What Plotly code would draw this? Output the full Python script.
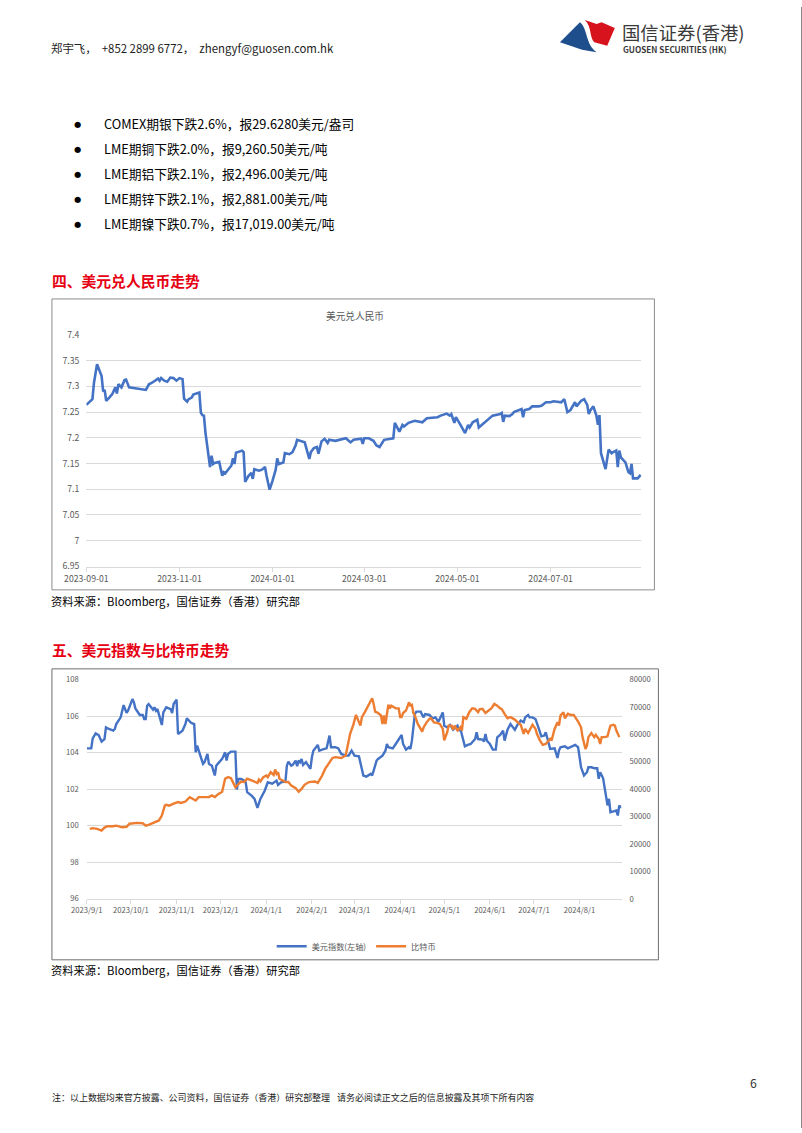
import plotly.graph_objects as go

W, H = 802, 1133
FONT = "Noto Sans CJK SC"
GRID = "#d9d9d9"
LBL = "#595959"

# The photographed page shows the figure mapped as x' = AX + BX*x, y' = AY + BY*y;
# positions below are given in target-picture pixels and converted back here.
AX, BX = 19.0, 0.975
AY, BY = 8.0, 0.9896
FS = 1.02

def fx(x):
    return ((x - AX) / BX) / W

def fy(y):
    return 1 - ((y - AY) / BY) / H

# ---------------- data: USD/CNY ----------------
cny_dates = [
    "2023-09-01", "2023-09-05", "2023-09-06", "2023-09-08", "2023-09-11", "2023-09-12", "2023-09-13",
    "2023-09-14", "2023-09-16", "2023-09-18", "2023-09-20", "2023-09-21", "2023-09-22", "2023-09-24",
    "2023-09-26", "2023-09-27", "2023-09-29", "2023-10-10", "2023-10-12", "2023-10-14", "2023-10-18",
    "2023-10-19", "2023-10-20", "2023-10-22", "2023-10-24", "2023-10-26", "2023-10-28", "2023-10-30",
    "2023-11-01", "2023-11-03", "2023-11-04", "2023-11-06", "2023-11-07", "2023-11-09", "2023-11-10",
    "2023-11-14", "2023-11-15", "2023-11-16", "2023-11-17", "2023-11-18", "2023-11-21", "2023-11-22",
    "2023-11-23", "2023-11-24", "2023-11-27", "2023-11-29", "2023-11-30", "2023-12-01", "2023-12-05",
    "2023-12-06", "2023-12-07", "2023-12-08", "2023-12-12", "2023-12-13", "2023-12-14", "2023-12-16",
    "2023-12-18", "2023-12-19", "2023-12-20", "2023-12-23", "2023-12-25", "2023-12-27", "2023-12-28",
    "2023-12-30", "2024-01-01", "2024-01-03", "2024-01-04", "2024-01-05", "2024-01-08", "2024-01-09",
    "2024-01-12", "2024-01-14", "2024-01-16", "2024-01-17", "2024-01-22", "2024-01-25", "2024-01-26",
    "2024-01-28", "2024-01-30", "2024-01-31", "2024-02-02", "2024-02-04", "2024-02-06", "2024-02-07",
    "2024-02-11", "2024-02-18", "2024-02-21", "2024-02-23", "2024-02-28", "2024-02-29", "2024-03-01",
    "2024-03-04", "2024-03-07", "2024-03-09", "2024-03-11", "2024-03-14", "2024-03-20", "2024-03-21",
    "2024-03-24", "2024-03-26", "2024-03-27", "2024-03-30", "2024-04-03", "2024-04-08", "2024-04-11",
    "2024-04-18", "2024-04-20", "2024-04-24", "2024-04-26", "2024-04-27", "2024-04-29", "2024-04-30",
    "2024-05-03", "2024-05-06", "2024-05-08", "2024-05-09", "2024-05-11", "2024-05-14", "2024-05-15",
    "2024-05-20", "2024-05-24", "2024-05-29", "2024-05-30", "2024-05-31", "2024-06-01", "2024-06-04",
    "2024-06-06", "2024-06-07", "2024-06-10", "2024-06-12", "2024-06-13", "2024-06-14", "2024-06-17",
    "2024-06-19", "2024-06-23", "2024-06-25", "2024-06-28", "2024-07-01", "2024-07-03", "2024-07-08",
    "2024-07-10", "2024-07-12", "2024-07-14", "2024-07-16", "2024-07-17", "2024-07-18", "2024-07-21",
    "2024-07-23", "2024-07-25", "2024-07-26", "2024-07-27", "2024-07-29", "2024-07-31", "2024-08-01",
    "2024-08-02", "2024-08-03", "2024-08-06", "2024-08-08", "2024-08-10", "2024-08-11", "2024-08-13",
    "2024-08-14", "2024-08-15", "2024-08-16", "2024-08-19", "2024-08-21", "2024-08-22", "2024-08-23",
    "2024-08-24", "2024-08-27", "2024-08-29",
]
cny_values = [
    7.264, 7.275, 7.307, 7.343, 7.320, 7.290, 7.293,
    7.272, 7.278, 7.285, 7.298, 7.286, 7.304, 7.298,
    7.312, 7.313, 7.298, 7.293, 7.304, 7.307, 7.315,
    7.311, 7.316, 7.311, 7.309, 7.317, 7.316, 7.311,
    7.316, 7.314, 7.276, 7.270, 7.275, 7.278, 7.284,
    7.288, 7.249, 7.244, 7.243, 7.210, 7.143, 7.165,
    7.149, 7.151, 7.153, 7.126, 7.133, 7.131, 7.146,
    7.160, 7.149, 7.171, 7.175, 7.172, 7.114, 7.125,
    7.132, 7.120, 7.139, 7.136, 7.138, 7.143, 7.126,
    7.099, 7.117, 7.138, 7.160, 7.149, 7.152, 7.170,
    7.168, 7.172, 7.185, 7.196, 7.191, 7.159, 7.172,
    7.180, 7.182, 7.169, 7.193, 7.198, 7.190, 7.196,
    7.194, 7.199, 7.191, 7.196, 7.198, 7.188, 7.199,
    7.199, 7.194, 7.185, 7.182, 7.196, 7.199, 7.229,
    7.212, 7.225, 7.222, 7.229, 7.233, 7.230, 7.238,
    7.240, 7.243, 7.247, 7.243, 7.246, 7.229, 7.240,
    7.225, 7.209, 7.225, 7.220, 7.230, 7.235, 7.220,
    7.233, 7.243, 7.246, 7.248, 7.231, 7.243, 7.242,
    7.246, 7.250, 7.253, 7.256, 7.240, 7.254, 7.256,
    7.261, 7.261, 7.262, 7.269, 7.269, 7.271, 7.269,
    7.275, 7.250, 7.254, 7.264, 7.269, 7.261, 7.272,
    7.275, 7.264, 7.246, 7.253, 7.261, 7.243, 7.225,
    7.244, 7.170, 7.139, 7.177, 7.170, 7.172, 7.175,
    7.143, 7.175, 7.162, 7.152, 7.133, 7.131, 7.149,
    7.121, 7.121, 7.128,
]
cny_tick_dates = ["2023-09-01", "2023-11-01", "2024-01-01", "2024-03-01", "2024-05-01", "2024-07-01"]
cny_tick_labels = ["2023-09-01", "2023-11-01", "2024-01-01", "2024-03-01", "2024-05-01", "2024-07-01"]
cny_y_ticks = [6.95, 7.0, 7.05, 7.1, 7.15, 7.2, 7.25, 7.3, 7.35, 7.4]
cny_y_labels = ["6.95", "7", "7.05", "7.1", "7.15", "7.2", "7.25", "7.3", "7.35", "7.4"]

# ---------------- data: US dollar index ----------------
dxy_dates = [
    "2023-09-01", "2023-09-04", "2023-09-05", "2023-09-07", "2023-09-09", "2023-09-11", "2023-09-13",
    "2023-09-14", "2023-09-16", "2023-09-19", "2023-09-20", "2023-09-21", "2023-09-24", "2023-09-25",
    "2023-09-26", "2023-09-28", "2023-09-29", "2023-10-02", "2023-10-03", "2023-10-04", "2023-10-07",
    "2023-10-09", "2023-10-10", "2023-10-11", "2023-10-12", "2023-10-13", "2023-10-16", "2023-10-17",
    "2023-10-18", "2023-10-19", "2023-10-20", "2023-10-22", "2023-10-23", "2023-10-25", "2023-10-28",
    "2023-10-29", "2023-10-30", "2023-11-01", "2023-11-02", "2023-11-05", "2023-11-07", "2023-11-08",
    "2023-11-11", "2023-11-13", "2023-11-14", "2023-11-15", "2023-11-17", "2023-11-19", "2023-11-20",
    "2023-11-22", "2023-11-23", "2023-11-25", "2023-11-27", "2023-11-28", "2023-11-29", "2023-12-02",
    "2023-12-04", "2023-12-05", "2023-12-06", "2023-12-08", "2023-12-11", "2023-12-12", "2023-12-13",
    "2023-12-15", "2023-12-17", "2023-12-18", "2023-12-19", "2023-12-22", "2023-12-24", "2023-12-26",
    "2023-12-28", "2023-12-31", "2024-01-02", "2024-01-05", "2024-01-08", "2024-01-09", "2024-01-11",
    "2024-01-14", "2024-01-15", "2024-01-16", "2024-01-18", "2024-01-19", "2024-01-21", "2024-01-22",
    "2024-01-23", "2024-01-24", "2024-01-25", "2024-01-26", "2024-01-28", "2024-01-31", "2024-02-01",
    "2024-02-02", "2024-02-05", "2024-02-06", "2024-02-09", "2024-02-11", "2024-02-13", "2024-02-14",
    "2024-02-17", "2024-02-19", "2024-02-21", "2024-02-24", "2024-02-26", "2024-02-28", "2024-03-01",
    "2024-03-04", "2024-03-07", "2024-03-09", "2024-03-12", "2024-03-13", "2024-03-14", "2024-03-15",
    "2024-03-16", "2024-03-17", "2024-03-20", "2024-03-22", "2024-03-23", "2024-03-24", "2024-03-27",
    "2024-03-29", "2024-03-31", "2024-04-02", "2024-04-03", "2024-04-05", "2024-04-07", "2024-04-08",
    "2024-04-09", "2024-04-10", "2024-04-11", "2024-04-12", "2024-04-15", "2024-04-16", "2024-04-17",
    "2024-04-18", "2024-04-21", "2024-04-23", "2024-04-25", "2024-04-27", "2024-04-30", "2024-05-01",
    "2024-05-03", "2024-05-05", "2024-05-07", "2024-05-10", "2024-05-11", "2024-05-12", "2024-05-15",
    "2024-05-17", "2024-05-19", "2024-05-20", "2024-05-22", "2024-05-23", "2024-05-24", "2024-05-27",
    "2024-05-28", "2024-05-29", "2024-05-30", "2024-06-01", "2024-06-03", "2024-06-05", "2024-06-06",
    "2024-06-08", "2024-06-10", "2024-06-11", "2024-06-13", "2024-06-15", "2024-06-16", "2024-06-18",
    "2024-06-20", "2024-06-22", "2024-06-24", "2024-06-25", "2024-06-27", "2024-06-28", "2024-06-30",
    "2024-07-02", "2024-07-04", "2024-07-06", "2024-07-08", "2024-07-09", "2024-07-12", "2024-07-15",
    "2024-07-17", "2024-07-18", "2024-07-19", "2024-07-22", "2024-07-24", "2024-07-26", "2024-07-29",
    "2024-07-31", "2024-08-01", "2024-08-02", "2024-08-04", "2024-08-06", "2024-08-07", "2024-08-09",
    "2024-08-11", "2024-08-13", "2024-08-14", "2024-08-15", "2024-08-17", "2024-08-18", "2024-08-19",
    "2024-08-20", "2024-08-21", "2024-08-22", "2024-08-24", "2024-08-26", "2024-08-27", "2024-08-28",
    "2024-08-29",
]
dxy_values = [
    104.24, 104.24, 104.79, 105.06, 104.97, 104.61, 104.75,
    105.39, 105.30, 105.21, 105.30, 105.57, 105.94, 106.21,
    106.61, 106.18, 106.30, 106.94, 106.76, 106.43, 106.07,
    106.07, 105.85, 105.85, 106.58, 106.67, 106.36, 106.49,
    106.30, 106.39, 106.12, 105.52, 106.21, 106.49, 106.39,
    106.18, 106.67, 106.91, 105.03, 105.21, 105.57, 105.88,
    105.63, 105.57, 104.02, 104.39, 103.88, 103.39, 103.48,
    103.93, 103.39, 103.29, 102.75, 103.29, 103.39, 103.66,
    104.02, 103.57, 103.93, 104.06, 104.06, 101.98, 102.56,
    102.56, 102.47, 102.38, 101.84, 101.65, 101.47, 100.98,
    101.47, 101.93, 102.38, 102.30, 102.47, 102.24, 102.38,
    102.42, 103.29, 103.51, 103.29, 103.33, 103.57, 103.26,
    103.57, 103.48, 103.66, 103.33, 103.48, 103.11, 103.75,
    104.11, 104.43, 104.11, 104.20, 104.24, 104.94, 104.30,
    104.30, 104.24, 103.93, 103.84, 103.84, 104.11, 103.84,
    103.80, 102.75, 102.69, 102.84, 102.75, 103.02, 103.29,
    103.57, 103.66, 103.84, 104.11, 104.48, 104.30, 104.24,
    104.48, 104.75, 104.97, 104.48, 104.17, 104.30, 104.21,
    104.66, 105.57, 106.12, 106.25, 106.25, 106.07, 105.94,
    106.12, 106.07, 105.88, 105.94, 105.70, 106.21, 105.48,
    105.39, 105.52, 105.26, 105.48, 105.21, 105.30, 104.35,
    104.43, 104.48, 104.57, 104.75, 105.12, 104.75, 104.72,
    104.61, 105.03, 104.66, 104.48, 104.17, 104.17, 104.84,
    104.97, 105.21, 104.66, 105.26, 105.57, 105.48, 105.26,
    105.57, 105.76, 105.67, 105.94, 106.07, 105.94, 105.94,
    105.85, 105.39, 104.90, 104.94, 105.12, 104.21, 104.24,
    103.71, 104.12, 104.30, 104.35, 104.24, 104.30, 104.43,
    104.30, 103.84, 103.20, 102.75, 102.93, 103.20, 103.20,
    103.15, 103.15, 102.57, 102.93, 102.60, 102.11, 101.84,
    101.11, 101.47, 100.74, 100.78, 100.83, 100.56, 101.11,
    100.96,
]

# ---------------- data: Bitcoin ----------------
btc_dates = [
    "2023-09-03", "2023-09-05", "2023-09-08", "2023-09-11", "2023-09-13", "2023-09-15", "2023-09-19",
    "2023-09-21", "2023-09-25", "2023-09-28", "2023-09-30", "2023-10-02", "2023-10-05", "2023-10-09",
    "2023-10-11", "2023-10-13", "2023-10-18", "2023-10-20", "2023-10-22", "2023-10-24", "2023-10-25",
    "2023-10-27", "2023-10-30", "2023-11-02", "2023-11-04", "2023-11-07", "2023-11-10", "2023-11-12",
    "2023-11-14", "2023-11-16", "2023-11-19", "2023-11-23", "2023-11-25", "2023-11-27", "2023-11-29",
    "2023-12-02", "2023-12-04", "2023-12-06", "2023-12-08", "2023-12-11", "2023-12-13", "2023-12-15",
    "2023-12-17", "2023-12-19", "2023-12-22", "2023-12-24", "2023-12-26", "2023-12-27", "2023-12-28",
    "2023-12-30", "2024-01-01", "2024-01-02", "2024-01-04", "2024-01-06", "2024-01-07", "2024-01-08",
    "2024-01-09", "2024-01-10", "2024-01-12", "2024-01-14", "2024-01-16", "2024-01-18", "2024-01-21",
    "2024-01-23", "2024-01-25", "2024-01-27", "2024-01-30", "2024-02-01", "2024-02-03", "2024-02-05",
    "2024-02-08", "2024-02-10", "2024-02-12", "2024-02-15", "2024-02-17", "2024-02-19", "2024-02-21",
    "2024-02-24", "2024-02-25", "2024-02-27", "2024-02-29", "2024-03-02", "2024-03-05", "2024-03-06",
    "2024-03-08", "2024-03-11", "2024-03-12", "2024-03-13", "2024-03-14", "2024-03-15", "2024-03-17",
    "2024-03-19", "2024-03-20", "2024-03-21", "2024-03-22", "2024-03-23", "2024-03-24", "2024-03-25",
    "2024-03-26", "2024-03-29", "2024-03-31", "2024-04-01", "2024-04-02", "2024-04-03", "2024-04-05",
    "2024-04-07", "2024-04-08", "2024-04-09", "2024-04-10", "2024-04-11", "2024-04-13", "2024-04-16",
    "2024-04-17", "2024-04-19", "2024-04-21", "2024-04-22", "2024-04-24", "2024-04-26", "2024-04-28",
    "2024-04-30", "2024-05-01", "2024-05-03", "2024-05-04", "2024-05-06", "2024-05-07", "2024-05-08",
    "2024-05-10", "2024-05-12", "2024-05-13", "2024-05-14", "2024-05-16", "2024-05-18", "2024-05-20",
    "2024-05-22", "2024-05-24", "2024-05-25", "2024-05-27", "2024-05-29", "2024-05-31", "2024-06-02",
    "2024-06-04", "2024-06-06", "2024-06-08", "2024-06-09", "2024-06-11", "2024-06-13", "2024-06-15",
    "2024-06-18", "2024-06-20", "2024-06-22", "2024-06-24", "2024-06-25", "2024-06-27", "2024-06-28",
    "2024-06-30", "2024-07-02", "2024-07-03", "2024-07-05", "2024-07-07", "2024-07-09", "2024-07-12",
    "2024-07-13", "2024-07-15", "2024-07-17", "2024-07-18", "2024-07-19", "2024-07-21", "2024-07-22",
    "2024-07-24", "2024-07-26", "2024-07-28", "2024-07-31", "2024-08-02", "2024-08-03", "2024-08-05",
    "2024-08-06", "2024-08-07", "2024-08-09", "2024-08-11", "2024-08-12", "2024-08-14", "2024-08-15",
    "2024-08-16", "2024-08-18", "2024-08-20", "2024-08-21", "2024-08-22", "2024-08-24", "2024-08-25",
    "2024-08-26", "2024-08-28",
]
btc_values = [
    25500, 25800, 25500, 24900, 26000, 26500, 26500,
    26700, 26100, 26300, 27400, 27600, 27700, 27600,
    26700, 27000, 28200, 28600, 30400, 34000, 34300,
    34000, 34700, 35300, 35000, 35500, 37100, 36500,
    35900, 37100, 37100, 37100, 37700, 37100, 38100,
    39100, 43800, 44400, 44000, 40700, 41900, 42800,
    42600, 43800, 43200, 42800, 42300, 43500, 42800,
    44400, 45000, 44400, 46200, 45200, 47200, 45600,
    46200, 43800, 43200, 42600, 42600, 41300, 40400,
    39100, 40100, 41600, 42600, 42600, 42800, 42300,
    45000, 47400, 49200, 51400, 51700, 51500, 51400,
    52300, 54700, 60200, 63200, 67100, 63200, 66300,
    68100, 71500, 72300, 73200, 71100, 68300, 67800,
    66900, 63800, 66900, 63800, 68100, 70800, 69500,
    70500, 69500, 69500, 66300, 66300, 67800, 68700,
    71700, 70500, 70800, 67800, 66900, 63800, 61000,
    62600, 64400, 65700, 65900, 64400, 64200, 63800,
    62000, 57800, 60800, 63200, 63200, 61800, 63200,
    61400, 62600, 61400, 66300, 65700, 68100, 69500,
    69300, 68100, 69100, 69300, 67800, 68700, 69500,
    71100, 70500, 69500, 69300, 67500, 65900, 66300,
    65400, 64400, 63500, 60200, 62000, 60500, 61400,
    63500, 62000, 60200, 57800, 56200, 56500, 58400,
    57800, 62000, 64400, 63200, 66900, 68100, 65900,
    67500, 67100, 67100, 64700, 62600, 59000, 54700,
    55900, 59000, 60500, 59000, 59800, 58400, 56500,
    59000, 59000, 59300, 61400, 63200, 63500, 63200,
    61400, 59000,
]
dxy_tick_dates = [
    "2023-09-01", "2023-10-01", "2023-11-01", "2023-12-01", "2024-01-01", "2024-02-01",
    "2024-03-01", "2024-04-01", "2024-05-01", "2024-06-01", "2024-07-01", "2024-08-01",
]
dxy_tick_labels = [
    "2023/9/1", "2023/10/1", "2023/11/1", "2023/12/1", "2024/1/1", "2024/2/1",
    "2024/3/1", "2024/4/1", "2024/5/1", "2024/6/1", "2024/7/1", "2024/8/1",
]
dxy_y_ticks = [96, 98, 100, 102, 104, 106, 108]
btc_y_ticks = [0, 10000, 20000, 30000, 40000, 50000, 60000, 70000, 80000]
btc_y_labels = ["0", "10000", "20000", "30000", "40000", "50000", "60000", "70000", "80000"]

bullet_lines = [
    "COMEX期银下跌2.6%，报29.6280美元/盎司",
    "LME期铜下跌2.0%，报9,260.50美元/吨",
    "LME期铝下跌2.1%，报2,496.00美元/吨",
    "LME期锌下跌2.1%，报2,881.00美元/吨",
    "LME期镍下跌0.7%，报17,019.00美元/吨",
]

# ---------------- figure ----------------
fig = go.Figure()
fig.add_trace(go.Scatter(
    x=cny_dates, y=cny_values, mode="lines", name="美元兑人民币",
    line=dict(color="#4472c4", width=2.6), xaxis="x", yaxis="y", showlegend=False,
))
fig.add_trace(go.Scatter(
    x=dxy_dates, y=dxy_values, mode="lines", name="美元指数(左轴)",
    line=dict(color="#4472c4", width=2.4), xaxis="x2", yaxis="y2",
))
fig.add_trace(go.Scatter(
    x=btc_dates, y=btc_values, mode="lines", name="比特币",
    line=dict(color="#ed7d31", width=2.4), xaxis="x2", yaxis="y3",
))

tickfont1 = dict(family=FONT, size=8.5 * FS, color=LBL)
tickfont2 = dict(family=FONT, size=7.5 * FS, color=LBL)

layout = dict(
    width=W, height=H, autosize=False,
    margin=dict(l=0, r=0, t=0, b=0),
    paper_bgcolor="white", plot_bgcolor="rgba(0,0,0,0)",
    font=dict(family=FONT, color="#000"),
    xaxis=dict(
        domain=[fx(83.5), fx(640)], anchor="y", type="date",
        range=["2023-09-01", "2024-08-29 12:00"],
        tickvals=cny_tick_dates, ticktext=cny_tick_labels, tickfont=tickfont1,
        ticks="outside", ticklen=4, tickcolor=GRID, showline=True, linecolor=GRID,
        showgrid=False, zeroline=False,
    ),
    yaxis=dict(
        domain=[fy(567.7), fy(335.7)], anchor="x", range=[6.9495, 7.4005],
        tickvals=cny_y_ticks, ticktext=cny_y_labels, tickfont=tickfont1,
        showgrid=True, gridcolor=GRID, gridwidth=1, zeroline=False, showline=False,
        ticklabelstandoff=6,
    ),
    xaxis2=dict(
        domain=[fx(84), fx(620)], anchor="y2", type="date",
        range=["2023-09-01", "2024-08-29 12:00"],
        tickvals=dxy_tick_dates, ticktext=dxy_tick_labels, tickfont=tickfont2,
        ticks="outside", ticklen=4, tickcolor=GRID, showline=True, linecolor=GRID,
        showgrid=False, zeroline=False,
    ),
    yaxis2=dict(
        domain=[fy(900), fy(680.7)], anchor="x2", range=[95.99, 108.01],
        tickvals=dxy_y_ticks, tickfont=tickfont2,
        showgrid=True, gridcolor=GRID, zeroline=False, showline=False,
        ticklabelstandoff=7,
    ),
    yaxis3=dict(
        overlaying="y2", side="right", anchor="x2", range=[0, 80000],
        tickvals=btc_y_ticks, ticktext=btc_y_labels,
        tickfont=tickfont2, showgrid=False, zeroline=False, showline=False,
        ticklabelstandoff=7,
    ),
    legend=dict(
        orientation="h", x=fx(354), xanchor="center", y=fy(947.5), yanchor="middle",
        font=dict(family=FONT, size=8 * FS, color=LBL), bgcolor="rgba(0,0,0,0)",
        itemwidth=30, tracegroupgap=0,
    ),
)
fig.update_layout(**layout)

# ---------------- shapes ----------------
shapes = []

def rect(x0, y0, x1, y1, color, width=1):
    shapes.append(dict(type="rect", xref="paper", yref="paper",
                       x0=fx(x0), y0=fy(y1), x1=fx(x1), y1=fy(y0),
                       line=dict(color=color, width=width), fillcolor="rgba(0,0,0,0)", layer="below"))

def hline_px(y, color):
    shapes.append(dict(type="line", xref="paper", yref="paper", x0=0, x1=1, y0=y, y1=y,
                       line=dict(color=color, width=1), layer="below"))

# page edge (right and bottom, kept inside the figure)
shapes.append(dict(type="line", xref="paper", yref="paper", x0=1 - 0.5 / W, x1=1 - 0.5 / W, y0=0, y1=1,
                   line=dict(color="#8a8a8a", width=1), layer="below"))
rect(49, 300, 653, 591, "#8c8c8c")
rect(49, 670, 657, 961, "#6e6e6e")

def path(cmds):
    out = []
    for c in cmds:
        if isinstance(c, str):
            out.append(c)
        else:
            out.append(f"{fx(c[0]):.5f},{fy(c[1]):.5f}")
    return " ".join(out)

red_logo = path(["M", (583.3, 21.0), "L", (595.0, 25.0), "L", (600.0, 23.3), "L", (613.3, 29.0),
                 "L", (605.7, 46.7), "L", (592.7, 43.3),
                 "C", (587.5, 38.0), (590.5, 28.0), (583.3, 21.0), "Z"])
blue_logo = path(["M", (558.3, 43.3), "L", (578.3, 23.3),
                  "C", (586.5, 30.0), (583.5, 45.0), (595.0, 53.3),
                  "L", (580.5, 50.7), "Z"])
shapes.append(dict(type="path", xref="paper", yref="paper", path=red_logo,
                   fillcolor="#d7131d", line=dict(width=0)))
shapes.append(dict(type="path", xref="paper", yref="paper", path=blue_logo,
                   fillcolor="#1f4e8c", line=dict(width=0)))
fig.update_layout(shapes=shapes)

# ---------------- text ----------------
ann = []

def text(x, y, s, size, color="#000", anchor="left", family=FONT):
    ann.append(dict(x=fx(x), y=fy(y), xref="paper", yref="paper", text=s, showarrow=False,
                    xanchor=anchor, yanchor="middle", borderpad=0,
                    font=dict(family=family, size=size * FS, color=color)))

text(47, 49, "郑宇飞，  +852 2899 6772，  zhengyf@guosen.com.hk", 11.2, "#222")
text(619, 33, "国信证券(香港)", 18, "#3a3a3a")
text(620, 50.5, "<b>GUOSEN SECURITIES (HK)</b>", 8, "#3a3a3a")

for i, line in enumerate(bullet_lines):
    yy = 125 + i * 25
    text(75, yy, "●", 8, "#000", anchor="center", family="DejaVu Sans")
    text(100, yy, line, 12.5, "#000")

text(48, 281.5, "<b>四、美元兑人民币走势</b>", 14.5, "#e60012")
text(353, 317, "美元兑人民币", 9.5, LBL, anchor="center")
text(47, 602, "资料来源：Bloomberg，国信证券（香港）研究部", 11, "#000")

text(48, 650.5, "<b>五、美元指数与比特币走势</b>", 14.5, "#e60012")
text(47, 971.5, "资料来源：Bloomberg，国信证券（香港）研究部", 11, "#000")

text(48, 1098.5, "注：以上数据均来官方披露、公司资料，国信证券（香港）研究部整理", 8.8, "#222")
text(334, 1098.5, "请务必阅读正文之后的信息披露及其项下所有内容", 8.8, "#222")
text(752, 1084, "6", 12, "#333", anchor="center")

fig.update_layout(annotations=ann)

fig.write_html("out.html")
